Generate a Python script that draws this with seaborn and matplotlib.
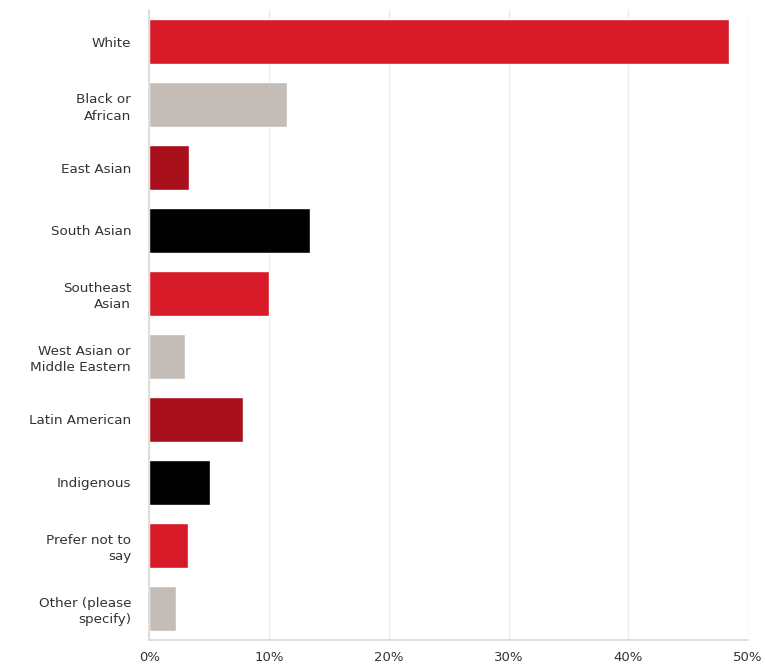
from matplotlib import pyplot as plt
from matplotlib.ticker import FuncFormatter
import seaborn as sns
import pandas as pd

categories = [
    'White',
    'Black or\nAfrican',
    'East Asian',
    'South Asian',
    'Southeast\nAsian',
    'West Asian or\nMiddle Eastern',
    'Latin American',
    'Indigenous',
    'Prefer not to\nsay',
    'Other (please\nspecify)',
]
shares = [48.4, 11.5, 3.3, 13.4, 10.0, 3.0, 7.8, 5.1, 3.2, 2.2]
bar_colors = ['#d71a28', '#c4bdb7', '#a8111b', '#000000'] * 3
x_ticks = [0, 10, 20, 30, 40, 50]

df = pd.DataFrame({'category': categories, 'share': shares})

sns.set_theme(style='white')
plt.rcParams['font.family'] = ['DejaVu Sans']

fig = plt.figure(figsize=(7.65, 6.68), dpi=100)
ax = fig.add_axes([0.195, 0.042, 0.783, 0.943])

sns.barplot(data=df, x='share', y='category', hue='category',
            palette=bar_colors[:len(categories)], orient='h',
            width=0.72, saturation=1, legend=False, ax=ax)

ax.set_xlim(0, 50)
ax.set_xticks(x_ticks)
ax.xaxis.set_major_formatter(FuncFormatter(lambda v, _: '{:d}%'.format(int(v))))
ax.grid(axis='x', color='#ececec', lw=1)
ax.set_axisbelow(True)
ax.set_xlabel('')
ax.set_ylabel('')

for side in ['top', 'right']:
    ax.spines[side].set_visible(False)
for side in ['left', 'bottom']:
    ax.spines[side].set_color('#d9d9d9')
    ax.spines[side].set_linewidth(1.2)

ax.tick_params(axis='y', length=0, pad=13, labelsize=9.7, labelcolor='#333333')
ax.tick_params(axis='x', length=0, pad=8, labelsize=9.5, labelcolor='#333333')
for lbl in ax.get_yticklabels():
    lbl.set_horizontalalignment('right')
    lbl.set_multialignment('right')
    lbl.set_linespacing(1.35)

fig.savefig('out.png', dpi=100)
plt.close(fig)
